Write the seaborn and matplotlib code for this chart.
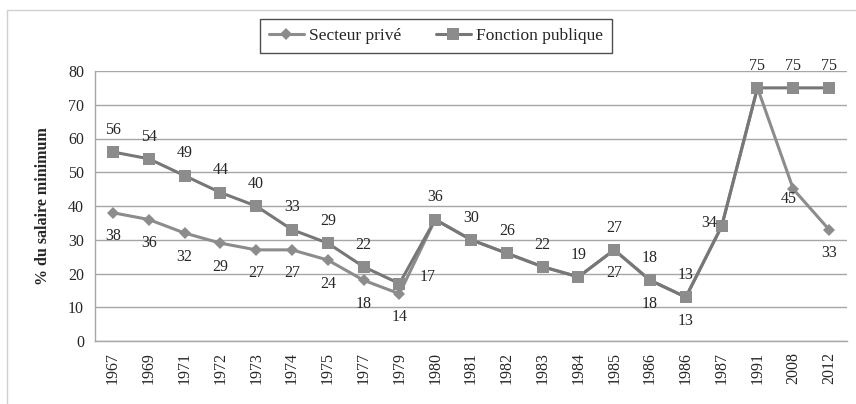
import matplotlib
matplotlib.use("Agg")
import matplotlib.pyplot as plt
from matplotlib.patches import Rectangle
import seaborn as sns
import pandas as pd

annees = ['1967', '1969', '1971', '1972', '1973', '1974', '1975', '1977', '1979', '1980',
          '1981', '1982', '1983', '1984', '1985', '1986', '1986', '1987', '1991', '2008', '2012']
secteur_prive = [38, 36, 32, 29, 27, 27, 24, 18, 14, 36, 30, 26, 22, 19, 27, 18, 13, 34, 75, 45, 33]
fonction_publique = [56, 54, 49, 44, 40, 33, 29, 22, 17, 36, 30, 26, 22, 19, 27, 18, 13, 34, 75, 75, 75]

# private labels are hidden where they sit on the public ones
prive_visible = [True] * 9 + [False] * 5 + [True, True, True, False, False, True, True]

df = pd.DataFrame({'pos': range(len(annees)), 'annee': annees,
                   'Secteur privé': secteur_prive, 'Fonction publique': fonction_publique})

sns.set_style('white')
plt.rcParams['font.family'] = ['Liberation Serif', 'DejaVu Serif']

fig = plt.figure(figsize=(8.56, 4.04), dpi=100)
ax = fig.add_axes([95 / 856, 1 - 341 / 404, (847 - 95) / 856, (341 - 71) / 404])

sns.lineplot(data=df, x='pos', y='Secteur privé', ax=ax, color='#8c8c8c', lw=2.2,
             marker='D', markersize=6, markeredgewidth=0, label='Secteur privé')
sns.lineplot(data=df, x='pos', y='Fonction publique', ax=ax, color='#777777', lw=2.2,
             marker='s', markersize=9, markerfacecolor='#8c8c8c', markeredgewidth=0,
             label='Fonction publique')

# data labels (offsets in points)
pub_off = {8: (20, 5), 17: (-9, 2)}
for i, v in enumerate(fonction_publique):
    dx, dy = pub_off.get(i, (0, 16))
    ax.annotate(str(v), (i, v), xytext=(dx, dy), textcoords='offset points',
                ha='center', va='center', fontsize=11.5)
priv_off = {19: (-3, -7)}
for i, v in enumerate(secteur_prive):
    if not prive_visible[i]:
        continue
    dx, dy = priv_off.get(i, (0, -17))
    ax.annotate(str(v), (i, v), xytext=(dx, dy), textcoords='offset points',
                ha='center', va='center', fontsize=11.5)

ax.set_xlim(-0.5, len(annees) - 0.5)
ax.set_ylim(0, 80)
ax.set_yticks(range(0, 81, 10))
ax.set_xticks(range(len(annees)))
ax.set_xticklabels(annees, rotation=90)
ax.tick_params(axis='both', length=0, labelsize=11.5, pad=8)
ax.set_xlabel('')
ax.set_ylabel('% du salaire minimum', fontsize=11.5, fontweight='bold', labelpad=12)

ax.yaxis.grid(True, color='#a6a6a6', lw=1)
ax.xaxis.grid(False)
for s in ['top', 'right']:
    ax.spines[s].set_visible(False)
for s in ['left', 'bottom']:
    ax.spines[s].set_color('#a6a6a6')
    ax.spines[s].set_linewidth(1)

leg = ax.legend(loc='center', bbox_to_anchor=(436 / 856, 1 - 36 / 404),
                bbox_transform=fig.transFigure, ncol=2, fontsize=12.5, frameon=True,
                fancybox=False, handlelength=2.0, handletextpad=0.3,
                columnspacing=2.0, borderpad=0.5)
leg.get_frame().set_edgecolor('#222222')
leg.get_frame().set_linewidth(1)

fig.patches.append(Rectangle((7 / 856, -0.05), 1.0, 1 - 10 / 404 + 0.05,
                             transform=fig.transFigure, fill=False,
                             edgecolor='#d0d0d0', lw=1))

fig.savefig('out.png', dpi=100)
